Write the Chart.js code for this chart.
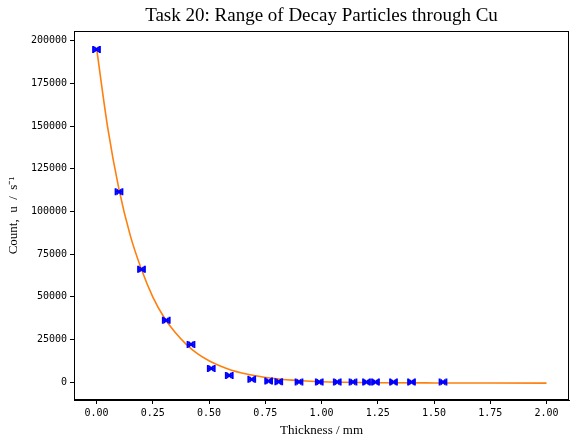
<!DOCTYPE html>
<html>
<head>
<meta charset="utf-8">
<script src="https://cdn.jsdelivr.net/npm/chart.js@4.4.0/dist/chart.umd.min.js"></script>
<style>
  html, body { margin: 0; padding: 0; background: #fff; }
  #wrap { width: 579px; height: 446px; }
</style>
</head>
<body>
<div id="wrap"><canvas id="c"></canvas></div>
<script>
// measured points
const thickness = [0.00, 0.10, 0.20, 0.31, 0.42, 0.51, 0.59, 0.69, 0.765, 0.81, 0.90, 0.99, 1.07, 1.14, 1.20, 1.24, 1.32, 1.40, 1.54];
const counts = [195000, 111500, 66100, 36200, 22100, 8000, 3900, 1600, 600, 200, 100, 50, 30, 20, 10, 10, 5, 5, 5];
const thicknessErr = [0.015, 0.015, 0.015, 0.015, 0.015, 0.015, 0.015, 0.015, 0.015, 0.015, 0.015, 0.015, 0.015, 0.015, 0.015, 0.015, 0.015, 0.015, 0.015];

// fitted curve
const fitX = [0, 0.05, 0.1, 0.15, 0.2, 0.25, 0.3, 0.35, 0.4, 0.45, 0.5, 0.55, 0.6, 0.7, 0.8, 0.9, 1.0, 1.1, 1.25, 1.5, 1.75, 2.0];
const fitY = [196000, 149000, 113000, 86000, 66000, 50000, 38000, 29000, 22000, 16500, 12500, 9400, 7000, 3900, 2000, 900, 200, -100, -350, -500, -550, -600];

// tick labels
const xTicks = [0, 0.25, 0.5, 0.75, 1.0, 1.25, 1.5, 1.75, 2.0];
const yTicks = [0, 25000, 50000, 75000, 100000, 125000, 150000, 175000, 200000];

const titleText = 'Task 20: Range of Decay Particles through Cu';

// 误差棒 + 外框 + 标题
const extras = {
  id: 'extras',
  afterDatasetsDraw(chart) {
    const { ctx, scales: { x, y } } = chart;
    ctx.save();
    ctx.strokeStyle = '#0000ff';
    ctx.lineWidth = 2;
    thickness.forEach((t, i) => {
      const py = y.getPixelForValue(counts[i]);
      const x0 = x.getPixelForValue(t - thicknessErr[i]);
      const x1 = x.getPixelForValue(t + thicknessErr[i]);
      ctx.beginPath();
      ctx.moveTo(x0, py); ctx.lineTo(x1, py);
      ctx.moveTo(x0, py - 3.5); ctx.lineTo(x0, py + 3.5);
      ctx.moveTo(x1, py - 3.5); ctx.lineTo(x1, py + 3.5);
      ctx.stroke();
    });
    ctx.restore();
  },
  afterDraw(chart) {
    const { ctx, chartArea: a } = chart;
    ctx.save();
    ctx.strokeStyle = '#000';
    ctx.lineWidth = 1;
    ctx.strokeRect(a.left + 0.5, a.top + 0.5, a.right - a.left - 1, a.bottom - a.top - 1);
    ctx.fillStyle = '#000';
    ctx.font = '19px "Liberation Serif", "DejaVu Serif", serif';
    ctx.textAlign = 'center';
    ctx.textBaseline = 'alphabetic';
    ctx.fillText(titleText, (a.left + a.right) / 2, 21);
    ctx.restore();
  }
};

const tickFont = { family: '"DejaVu Sans Mono", monospace', size: 10 };
const labelFont = { family: '"Liberation Serif", serif', size: 13 };

new Chart(document.getElementById('c'), {
  type: 'scatter',
  data: {
    datasets: [
      {
        label: 'data',
        data: thickness.map((t, i) => ({ x: t, y: counts[i] })),
        pointStyle: 'crossRot',
        pointRadius: 3.5,
        pointBorderWidth: 2,
        borderColor: '#0000ff',
        backgroundColor: '#0000ff',
        showLine: false
      },
      {
        label: 'fit',
        data: fitX.map((t, i) => ({ x: t, y: fitY[i] })),
        showLine: true,
        borderColor: '#ff7f0e',
        borderWidth: 1.6,
        pointRadius: 0,
        cubicInterpolationMode: 'monotone'
      }
    ]
  },
  options: {
    responsive: true,
    maintainAspectRatio: false,
    animation: false,
    layout: { padding: { top: 31, right: 10, left: 0, bottom: 0 } },
    plugins: {
      legend: { display: false },
      tooltip: { enabled: false },
      title: { display: false }
    },
    scales: {
      x: {
        type: 'linear',
        min: -0.1,
        max: 2.1,
        afterBuildTicks: s => { s.ticks = xTicks.map(v => ({ value: v })); },
        afterFit: s => { s.height = 46; },
        ticks: {
          font: tickFont,
          color: '#000',
          padding: 3,
          maxRotation: 0,
          callback: v => v.toFixed(2)
        },
        grid: { drawOnChartArea: false, drawTicks: true, tickLength: 4, color: '#000' },
        border: { display: true, color: '#000' },
        title: {
          display: true,
          text: 'Thickness / mm',
          font: labelFont,
          color: '#000',
          padding: { top: 0, bottom: 8 }
        }
      },
      y: {
        type: 'linear',
        min: -10500,
        max: 205800,
        afterBuildTicks: s => { s.ticks = yTicks.map(v => ({ value: v })); },
        afterFit: s => { s.width = 74; },
        ticks: {
          font: tickFont,
          color: '#000',
          padding: 3,
          callback: v => String(v)
        },
        grid: { drawOnChartArea: false, drawTicks: true, tickLength: 4, color: '#000' },
        border: { display: true, color: '#000' },
        title: {
          display: true,
          text: 'Count,  u  /  s\u207B\u00B9',
          font: labelFont,
          color: '#000',
          padding: { top: 6, bottom: 0 }
        }
      }
    }
  },
  plugins: [extras]
});
</script>
</body>
</html>
